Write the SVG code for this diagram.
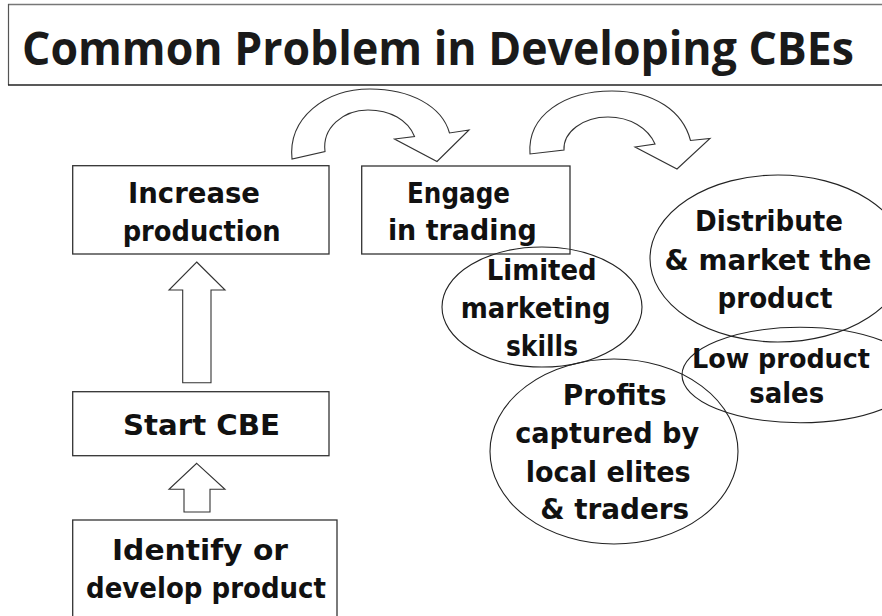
<svg xmlns="http://www.w3.org/2000/svg" width="882" height="616" viewBox="0 0 882 616">
<style>
.box{fill:none;stroke:#333;stroke-width:1.3}
.ell{fill:none;stroke:#222;stroke-width:1.1}
.arr{fill:#fff;stroke:#333;stroke-width:1.1;stroke-linejoin:miter}
.t{font-family:"DejaVu Sans","Liberation Sans",sans-serif;font-weight:bold;font-size:28px;fill:#111;text-anchor:middle}
.title{font-family:"Open Sans","DejaVu Sans",sans-serif;font-weight:bold;font-size:46px;fill:#1a1a1a}
</style>
<rect width="882" height="616" fill="#fff"/>
<g id="title">
<line x1="8" y1="4.5" x2="882" y2="4.5" stroke="#777" stroke-width="1.5"/>
<line x1="8.5" y1="4" x2="8.5" y2="85" stroke="#555" stroke-width="1.2"/>
<line x1="8" y1="85" x2="882" y2="85" stroke="#222" stroke-width="1.5"/>
<text class="title" x="22" y="65" textLength="832" lengthAdjust="spacingAndGlyphs">Common Problem in Developing CBEs</text>
</g>
<g id="connectors">
<path class="arr" d="M196.7,262 L225,290 L211,290 L211,382.7 L182.7,382.7 L182.7,290 L169,290 Z"/>
<path class="arr" d="M196.7,463.3 L225,489.3 L210,489.3 L210,512 L184,512 L184,489.3 L169,489.3 Z"/>
<path class="arr" d="M292,159 C288,118 325,89 370,89 C410,89 442,106 449.5,133 L469,130 L437,161.5 L394.5,139 L414.5,136.5 C408,120 390,110 368,110 C343,110 322,128 325,151.5 Z"/>
<path class="arr" d="M530,154 C527,115 565,91 612,91 C655,91 683,112 690.5,140.5 L710,138.5 L677,169 L635,147 L655,144 C648,128 630,117 608,117 C583,117 563,132 564,150 Z"/>
</g>
<g id="increase">
<rect class="box" x="72.7" y="165.7" width="256.3" height="88.3"/>
<text class="t" x="194" y="203" textLength="132" lengthAdjust="spacingAndGlyphs">Increase</text>
<text class="t" x="201.7" y="241" textLength="158" lengthAdjust="spacingAndGlyphs">production</text>
</g>
<g id="start">
<rect class="box" x="72.7" y="391.7" width="256.3" height="64"/>
<text class="t" x="201.5" y="435" textLength="157" lengthAdjust="spacingAndGlyphs">Start CBE</text>
</g>
<g id="identify">
<rect class="box" x="72.7" y="520" width="264.3" height="100"/>
<text class="t" x="200" y="560" textLength="176" lengthAdjust="spacingAndGlyphs">Identify or</text>
<text class="t" x="206" y="598" textLength="240" lengthAdjust="spacingAndGlyphs">develop product</text>
</g>
<g id="engage">
<rect class="box" x="361.7" y="166" width="208.3" height="88"/>
<text class="t" x="458.5" y="203" textLength="103" lengthAdjust="spacingAndGlyphs">Engage</text>
<text class="t" x="462.4" y="240" textLength="149" lengthAdjust="spacingAndGlyphs">in trading</text>
</g>
<g id="limited">
<ellipse class="ell" cx="542" cy="307" rx="100" ry="60"/>
<text class="t" x="541.7" y="280" textLength="110" lengthAdjust="spacingAndGlyphs">Limited</text>
<text class="t" x="535.7" y="318" textLength="150" lengthAdjust="spacingAndGlyphs">marketing</text>
<text class="t" x="542" y="356" textLength="72" lengthAdjust="spacingAndGlyphs">skills</text>
</g>
<g id="distribute">
<ellipse class="ell" cx="778" cy="258.5" rx="128" ry="83.5"/>
<text class="t" x="769" y="231" textLength="148" lengthAdjust="spacingAndGlyphs">Distribute</text>
<text class="t" x="768" y="269.5" textLength="207" lengthAdjust="spacingAndGlyphs">&amp; market the</text>
<text class="t" x="775" y="308" textLength="115" lengthAdjust="spacingAndGlyphs">product</text>
</g>
<g id="lowsales">
<ellipse class="ell" cx="800" cy="375" rx="118" ry="47.7"/>
<text class="t" x="781" y="368" textLength="178" lengthAdjust="spacingAndGlyphs" style="font-size:26px">Low product</text>
<text class="t" x="786.7" y="403" textLength="75" lengthAdjust="spacingAndGlyphs">sales</text>
</g>
<g id="profits">
<ellipse class="ell" cx="614" cy="451.5" rx="124" ry="92.5"/>
<text class="t" x="614.7" y="405" textLength="104" lengthAdjust="spacingAndGlyphs">Profits</text>
<text class="t" x="607.2" y="443" textLength="184" lengthAdjust="spacingAndGlyphs">captured by</text>
<text class="t" x="608.2" y="481.5" textLength="165" lengthAdjust="spacingAndGlyphs">local elites</text>
<text class="t" x="614.7" y="519.3" textLength="149" lengthAdjust="spacingAndGlyphs">&amp; traders</text>
</g>
</svg>
